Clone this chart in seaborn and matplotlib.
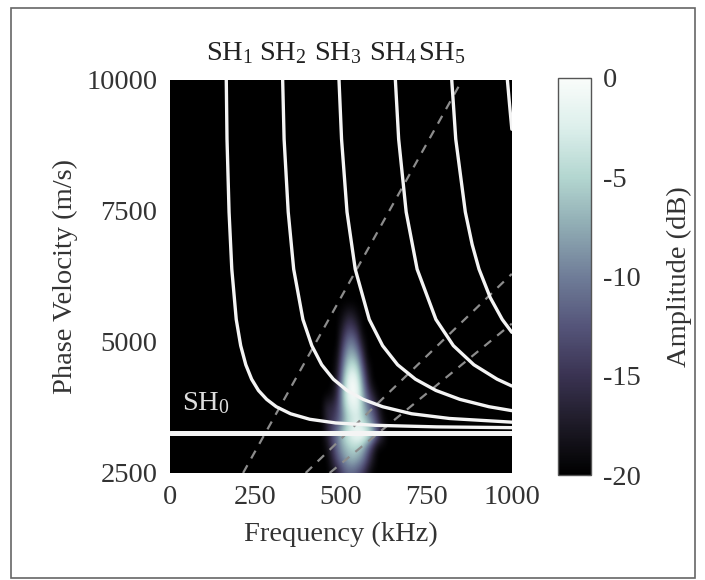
import numpy as np
import matplotlib
matplotlib.use("Agg")
import matplotlib.pyplot as plt
import seaborn as sns
from matplotlib.colors import LinearSegmentedColormap
from matplotlib.patches import Rectangle
from matplotlib.transforms import blended_transform_factory

# ---------------- data ---------------- #
# dispersion curves, frequency in kHz, phase velocity in m/s
sh0_f = [0, 1000]
sh0_v = [3255, 3255]

sh1_f = [163, 167, 173, 181, 194, 207, 222, 239, 259, 283, 311, 353, 409, 485, 600, 780, 1000]
sh1_v = [10990, 8870, 7480, 6390, 5430, 4930, 4565, 4290, 4075, 3905, 3765, 3630, 3525, 3455, 3410, 3380, 3365]

sh2_f = [326, 334, 346, 362, 389, 415, 444, 478, 518, 565, 622, 707, 818, 1000]
sh2_v = [10990, 8870, 7480, 6390, 5430, 4930, 4565, 4290, 4075, 3905, 3765, 3630, 3540, 3470]

sh3_f = [488, 502, 518, 542, 583, 622, 666, 718, 778, 848, 933, 1000]
sh3_v = [10990, 8870, 7480, 6390, 5430, 4930, 4565, 4290, 4075, 3905, 3765, 3690]

sh4_f = [651, 669, 691, 723, 778, 829, 889, 957, 1000]
sh4_v = [10990, 8870, 7480, 6390, 5430, 4930, 4565, 4290, 4160]

sh5_f = [814, 836, 864, 884, 904, 937, 972, 1000]
sh5_v = [10990, 8870, 7480, 6860, 6390, 5845, 5430, 5185]

sh6_f = [977, 987, 993, 1000]
sh6_v = [10990, 10000, 9555, 9060]

# constant-wavelength guide lines (dashed)
wl1_f = [214, 855]
wl1_v = [2500, 10000]
wl2_f = [397, 1000]
wl2_v = [2500, 6300]
wl3_f = [467, 1000]
wl3_v = [2500, 5350]

# measured amplitude (dB) around the excitation region
amp_f = [445, 460, 475, 490, 505, 520, 535, 550, 565, 580, 595, 610, 625, 640]
amp_v = [2500, 2750, 3000, 3250, 3500, 3750, 4000, 4250, 4500, 4750, 5000, 5250, 5500, 5750]
amp_db = [
    [-20, -20, -19, -17, -14, -12, -12, -13, -15, -18, -20, -20, -20, -20],
    [-20, -20, -17, -13, -10, -8, -7, -8, -10, -14, -18, -20, -20, -20],
    [-20, -19, -15, -11, -8, -6, -5, -5, -7, -11, -16, -20, -20, -20],
    [-20, -17, -13, -10, -6, -3, -1, 0, 0, -2, -6, -12, -17, -20],
    [-20, -17, -15, -13, -10, -6, -4, -3, -5, -8, -11, -15, -19, -20],
    [-20, -16, -16, -14, -9, -4, -2, -2, -6, -10, -13, -17, -20, -20],
    [-20, -20, -19, -16, -8, -2, 0, -1, -7, -13, -17, -20, -20, -20],
    [-20, -20, -20, -17, -9, -2, 0, -2, -9, -16, -20, -20, -20, -20],
    [-20, -20, -20, -18, -11, -5, -3, -5, -12, -18, -20, -20, -20, -20],
    [-20, -20, -20, -19, -13, -8, -7, -9, -15, -20, -20, -20, -20, -20],
    [-20, -20, -20, -20, -15, -11, -10, -13, -18, -20, -20, -20, -20, -20],
    [-20, -20, -20, -20, -17, -14, -14, -16, -20, -20, -20, -20, -20, -20],
    [-20, -20, -20, -20, -19, -17, -17, -19, -20, -20, -20, -20, -20, -20],
    [-20, -20, -20, -20, -20, -20, -20, -20, -20, -20, -20, -20, -20, -20],
]

mode_labels = ["SH$_1$", "SH$_2$", "SH$_3$", "SH$_4$", "SH$_5$"]
mode_label_f = [176, 330, 490, 652, 795]

x_ticks = [0, 250, 500, 750, 1000]
y_ticks = [2500, 5000, 7500, 10000]
cb_ticks = [0, -5, -10, -15, -20]

# ---------------- style ---------------- #
sns.set_theme(style="white")
plt.rcParams["font.family"] = ["Liberation Serif", "DejaVu Serif"]
plt.rcParams["mathtext.fontset"] = "custom"
plt.rcParams["mathtext.rm"] = "Liberation Serif"
plt.rcParams["mathtext.it"] = "Liberation Serif:italic"
plt.rcParams["axes.unicode_minus"] = False

txt = "#333333"
fs = 20.5

amp_cmap = LinearSegmentedColormap.from_list(
    "amp", ["#000000", "#1d1a26", "#3a3352", "#55557a", "#6f7d98",
            "#8fabb3", "#b3d6d0", "#dcefeb", "#fafcfb"])

fig = plt.figure(figsize=(7.05, 5.8), dpi=100)
ax = fig.add_axes([0.241, 0.1845, 0.485, 0.6776])
cax = fig.add_axes([0.791, 0.181, 0.048, 0.685])

ax.set_facecolor("black")

# ---------------- amplitude map ---------------- #
df_ = 15 / 2
dv_ = 250 / 2
im = ax.imshow(np.array(amp_db), origin="lower", cmap=amp_cmap, vmin=-20, vmax=0,
               extent=[amp_f[0] - df_, amp_f[-1] + df_, amp_v[0] - dv_, amp_v[-1] + dv_],
               interpolation="bicubic", aspect="auto", zorder=1)

# ---------------- guide lines ---------------- #
for f, v in [(wl1_f, wl1_v), (wl2_f, wl2_v), (wl3_f, wl3_v)]:
    sns.lineplot(x=f, y=v, ax=ax, color="#8c8c8c", lw=1.6,
                 linestyle=(0, (4, 3.5)), zorder=2)

# ---------------- dispersion curves ---------------- #
for f, v in [(sh1_f, sh1_v), (sh2_f, sh2_v), (sh3_f, sh3_v),
             (sh4_f, sh4_v), (sh5_f, sh5_v), (sh6_f, sh6_v)]:
    sns.lineplot(x=f, y=v, ax=ax, color="#f4f4f4", lw=2.4, zorder=3)
sns.lineplot(x=sh0_f, y=sh0_v, ax=ax, color="#f4f4f4", lw=3.6, zorder=3)

ax.set_xlim(0, 1000)
ax.set_ylim(2500, 10000)
ax.set_xticks(x_ticks)
ax.set_yticks(y_ticks)
ax.tick_params(length=0, labelsize=fs, labelcolor=txt, pad=9)
for s in ax.spines.values():
    s.set_visible(False)
ax.set_xlabel("Frequency (kHz)", fontsize=fs, color=txt, labelpad=8)
ax.set_ylabel("Phase Velocity (m/s)", fontsize=fs, color=txt, labelpad=6)

# mode labels
trans = blended_transform_factory(ax.transData, ax.transAxes)
for lab, f in zip(mode_labels, mode_label_f):
    ax.text(f, 1.068, lab, transform=trans, ha="center", va="center",
            fontsize=fs, color="#222222")
ax.text(35, 3830, "SH$_0$", ha="left", va="center", fontsize=fs, color="#dddddd", zorder=4)

# ---------------- colorbar ---------------- #
cb = fig.colorbar(im, cax=cax)
cb.set_ticks(cb_ticks)
cb.set_ticklabels([str(t) for t in cb_ticks])
cb.outline.set_edgecolor("#555555")
cb.outline.set_linewidth(1.0)
cax.tick_params(direction="in", length=3, width=0.8, color="#555555",
                labelsize=fs, labelcolor=txt, pad=8)
cb.set_label("Amplitude (dB)", fontsize=fs, color=txt, labelpad=19)

# frame around the whole figure
fig.add_artist(Rectangle((11 / 705, 2 / 580), 684 / 705, 570 / 580,
                         transform=fig.transFigure, fill=False,
                         edgecolor="#666666", lw=1.2))

fig.savefig("out.png", dpi=100)
